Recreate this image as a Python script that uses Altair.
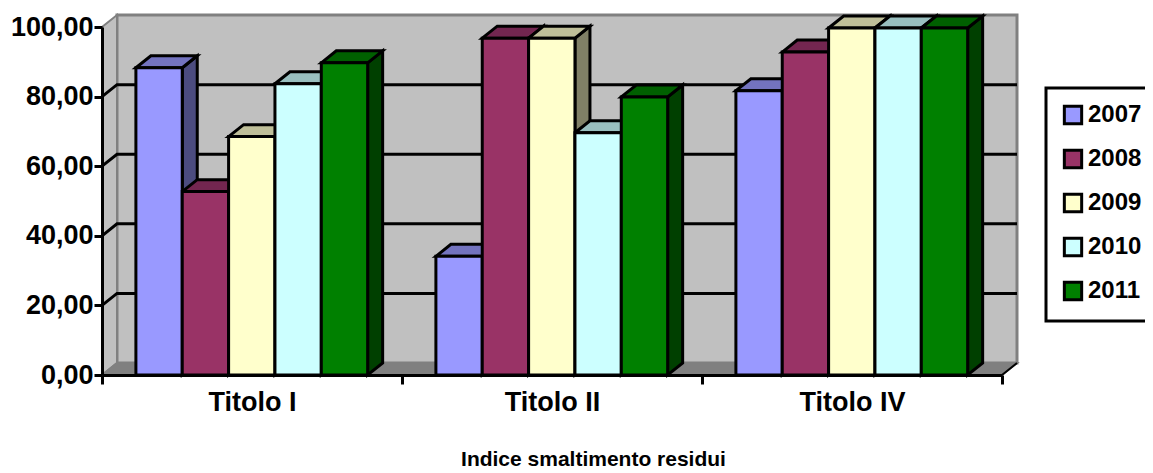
import altair as alt
import pandas as pd

categories = ["Titolo I", "Titolo II", "Titolo IV"]
years = ["2007", "2008", "2009", "2010", "2011"]
v2007 = [88.3, 34.1, 81.7]
v2008 = [52.7, 96.8, 92.8]
v2009 = [68.5, 96.8, 99.7]
v2010 = [83.7, 69.6, 99.7]
v2011 = [89.7, 79.9, 99.7]
series = [v2007, v2008, v2009, v2010, v2011]
front_colors = ["#9999FF", "#993366", "#FFFFCC", "#CCFFFF", "#008000"]
top_colors = ["#7373BF", "#732650", "#BFBF99", "#99BFBF", "#006000"]
side_colors = ["#4C4C80", "#4C1933", "#808066", "#668080", "#004000"]
y_ticks = [0, 20, 40, 60, 80, 100]

DX, DY = 0.05, 3.44          # depth of the 3D box, in axis units
GAP, BAR = 0.113, 0.1545     # group inset and bar width, in category units
FONT = "Liberation Sans"
BLACK, GREY = "#000000", "#808080"
n = len(categories)

front, tops, sides = [], [], []
bar = 0
for c in range(n):
    for j, yr in enumerate(years):
        v = series[j][c]
        x0 = c + GAP + j * BAR
        x1 = x0 + BAR
        front.append(dict(x=x0, x2=x1, y=v, y2=0, year=yr))
        for px, a, b in [(x0, v, v), (x0 + DX, v + DY, v), (x1, v + DY, v), (x1 + DX, v + DY, v + DY)]:
            tops.append(dict(bar=bar, x=px, y=a, y2=b, fill=top_colors[j]))
        for px, a, b in [(x1, v, 0), (x1 + DX, v + DY, DY)]:
            sides.append(dict(bar=bar, x=px, y=a, y2=b, fill=side_colors[j]))
        bar += 1

x_axis = alt.Axis(
    values=[0, .5, 1, 1.5, 2, 2.5, 3], grid=False, title="Indice smaltimento residui",
    labelExpr="datum.value % 1 == 0 ? '' : ['Titolo I','Titolo II','Titolo IV'][floor(datum.value)]",
    tickOpacity=alt.expr("datum.value % 1 == 0 ? 1 : 0"),
    tickColor=BLACK, tickWidth=3, tickSize=9, domainColor=BLACK, domainWidth=3,
    labelFont=FONT, labelFontWeight="bold", labelFontSize=27, labelColor=BLACK, labelPadding=5,
    labelFlush=False, labelOverlap=False,
    titleFont=FONT, titleFontWeight="bold", titleFontSize=21, titleColor=BLACK,
    titleX=491, titleY=73, zindex=1)
y_axis = alt.Axis(
    values=y_ticks, grid=False, title=None,
    labelExpr="replace(format(datum.value, '.2f'), '.', ',')",
    tickColor=BLACK, tickWidth=3, tickSize=8, domainColor=BLACK, domainWidth=3,
    labelFont=FONT, labelFontWeight="bold", labelFontSize=27, labelColor=BLACK, labelPadding=1,
    zindex=1)
x_scale = alt.Scale(domain=[0, 3], nice=False, zero=False)
y_scale = alt.Scale(domain=[0, 100], nice=False, zero=False)


def X(f="x"):
    return alt.X(f + ":Q", scale=x_scale, axis=x_axis)


def Y(f="y"):
    return alt.Y(f + ":Q", scale=y_scale, axis=y_axis, stack=None)


wall = alt.Chart(pd.DataFrame([dict(x=DX, x2=n + DX, y=DY, y2=100 + DY)])).mark_rect(
    fill="#C0C0C0", stroke=GREY, strokeWidth=3, clip=False
).encode(x=X(), x2="x2:Q", y=Y(), y2="y2:Q")

left_wall = alt.Chart(pd.DataFrame([
    dict(x=0, y=100, y2=0), dict(x=DX, y=100 + DY, y2=DY)
])).mark_area(fill="#C0C0C0", stroke=GREY, strokeWidth=2, orient="vertical").encode(x=X(), y=Y(), y2="y2:Q")

floor = alt.Chart(pd.DataFrame([
    dict(x=0, y=0, y2=0), dict(x=DX, y=DY, y2=0), dict(x=n, y=DY, y2=0), dict(x=n + DX, y=DY, y2=DY)
])).mark_area(fill=GREY, stroke=GREY, strokeWidth=2, orient="vertical").encode(x=X(), y=Y(), y2="y2:Q")

grid_rows = []
for t in y_ticks[1:-1]:
    for px, py in [(0, t), (DX, t + DY), (n + DX, t + DY)]:
        grid_rows.append(dict(t=t, x=px, y=py))
grid = alt.Chart(pd.DataFrame(grid_rows)).mark_line(color=BLACK, strokeWidth=3).encode(
    x=X(), y=Y(), detail="t:N")

edge = alt.Chart(pd.DataFrame([dict(k=1, x=n, y=0), dict(k=1, x=n + DX, y=DY)])).mark_line(
    color=BLACK, strokeWidth=2).encode(x=X(), y=Y(), detail="k:N")

side = alt.Chart(pd.DataFrame(sides)).mark_area(stroke=BLACK, strokeWidth=3, orient="vertical").encode(
    x=X(), y=Y(), y2="y2:Q", detail="bar:N", fill=alt.Fill("fill:N", scale=None))
top = alt.Chart(pd.DataFrame(tops)).mark_area(stroke=BLACK, strokeWidth=3, orient="vertical").encode(
    x=X(), y=Y(), y2="y2:Q", detail="bar:N", fill=alt.Fill("fill:N", scale=None))
bars = alt.Chart(pd.DataFrame(front)).mark_rect(stroke=BLACK, strokeWidth=3).encode(
    x=X(), x2="x2:Q", y=Y(), y2="y2:Q",
    color=alt.Color("year:N", scale=alt.Scale(domain=years, range=front_colors), legend=alt.Legend(
        orient="none", legendX=944, legendY=61, title=None, symbolType="square", symbolSize=300,
        symbolStrokeColor=BLACK, symbolStrokeWidth=3, symbolOpacity=1,
        labelFont=FONT, labelFontWeight="bold", labelFontSize=24, labelColor=BLACK, labelOffset=3,
        rowPadding=14, padding=15, strokeColor=BLACK, fillColor="#FFFFFF")))

chart = alt.layer(wall, left_wall, floor, grid, edge, side, top, bars).properties(
    width=900, height=348,
    padding={"left": 94, "top": 19, "right": 143, "bottom": 95},
    autosize=alt.AutoSizeParams(type="none"),
    background="#FFFFFF",
).configure_view(stroke=None).configure_legend(strokeWidth=3)

chart.save("out.html", embed_options={"renderer": "svg", "actions": False})
